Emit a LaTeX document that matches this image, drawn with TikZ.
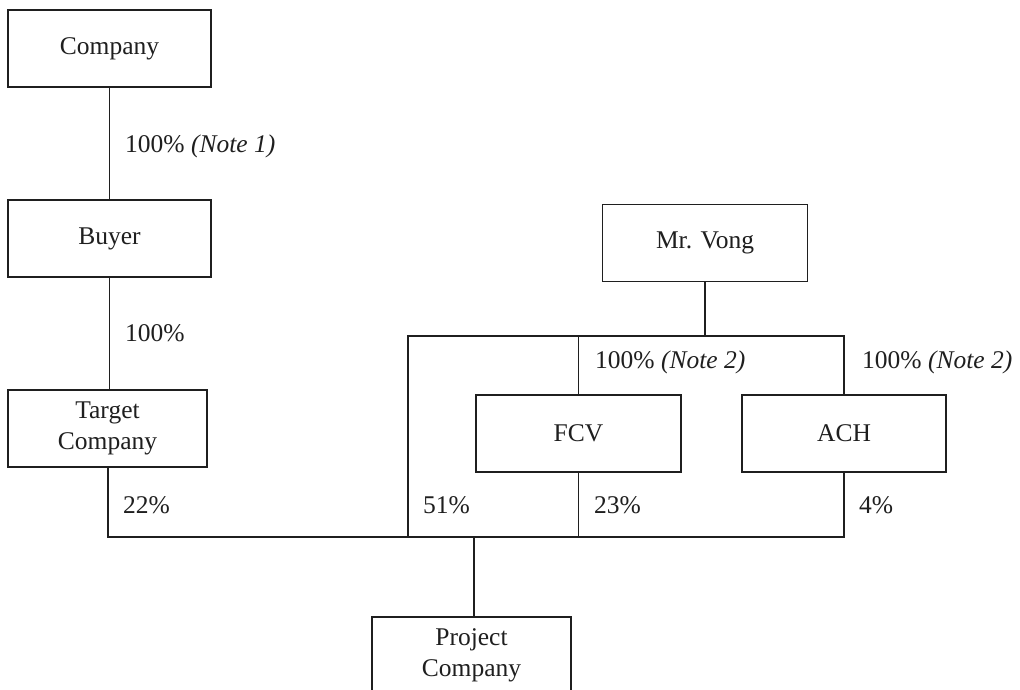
\documentclass[tikz,border=0pt]{standalone}
\usepackage{fontspec}
\setmainfont{Liberation Serif}
\begin{document}
\begin{tikzpicture}[x=1pt,y=-1pt,
  ent/.style={draw=black!88, line width=1.5pt, minimum height=77pt, inner sep=0pt, align=center,
    font=\fontsize{25.5}{31}\selectfont, text=black!88},
  pct/.style={anchor=west, inner sep=0pt, font=\fontsize{25.5}{30}\selectfont, text=black!88},
  link/.style={draw=black!88, line width=1.5pt}]
\clip (0,0) rectangle (1020,690);
\fill[white] (0,0) rectangle (1020,690);
% entities
\node[ent, minimum width=203pt] (comp) at (109.5,48.5) {Company};
\node[ent, minimum width=203pt] (buyer) at (109.5,238.5) {Buyer};
\node[ent, minimum width=199pt] (target) at (107.5,428.5) {Target\\Company};
\node[ent, minimum width=205pt] (vong) at (705,243) {Mr. Vong};
\node[ent, minimum width=205pt] (fcv) at (578.5,433.5) {FCV};
\node[ent, minimum width=204pt] (ach) at (844,433.5) {ACH};
\node[ent, minimum width=199pt] (proj) at (471.5,655.5) {Project\\Company};
% junction coordinates
\coordinate (tb) at (108,537);
\coordinate (vl) at (408,336);
\coordinate (vlb) at (408,537);
\coordinate (fb) at (578.5,537);
\coordinate (ab) at (844,537);
\coordinate (pt) at (474,537);
\coordinate (vt) at (705,336);
\coordinate (ft) at (578.5,336);
\coordinate (at) at (844,336);
% connectors
\draw[link] (comp.south) -- (buyer.north);
\draw[link] (buyer.south) -- (buyer.south |- target.north);
\draw[link] (target.south -| tb) -- (tb) -- (ab) -- (ach.south);
\draw[link] (vong.south) -- (vt);
\draw[link] (vlb) -- (vl) -- (at) -- (ach.north);
\draw[link] (ft) -- (fcv.north);
\draw[link] (fcv.south) -- (fb);
\draw[link] (pt) -- (pt |- proj.north);
% labels
\node[pct] (l1) at (125,146) {100\% \textit{(Note 1)}};
\node[pct] (l2) at (125,333) {100\%};
\node[pct] (l3) at (123,505) {22\%};
\node[pct] (l4) at (423,505) {51\%};
\node[pct] (l5) at (594,505) {23\%};
\node[pct] (l6) at (859,505) {4\%};
\node[pct] (l7) at (595,362) {100\% \textit{(Note 2)}};
\node[pct] (l8) at (862,362) {100\% \textit{(Note 2)}};
\end{tikzpicture}
\end{document}
